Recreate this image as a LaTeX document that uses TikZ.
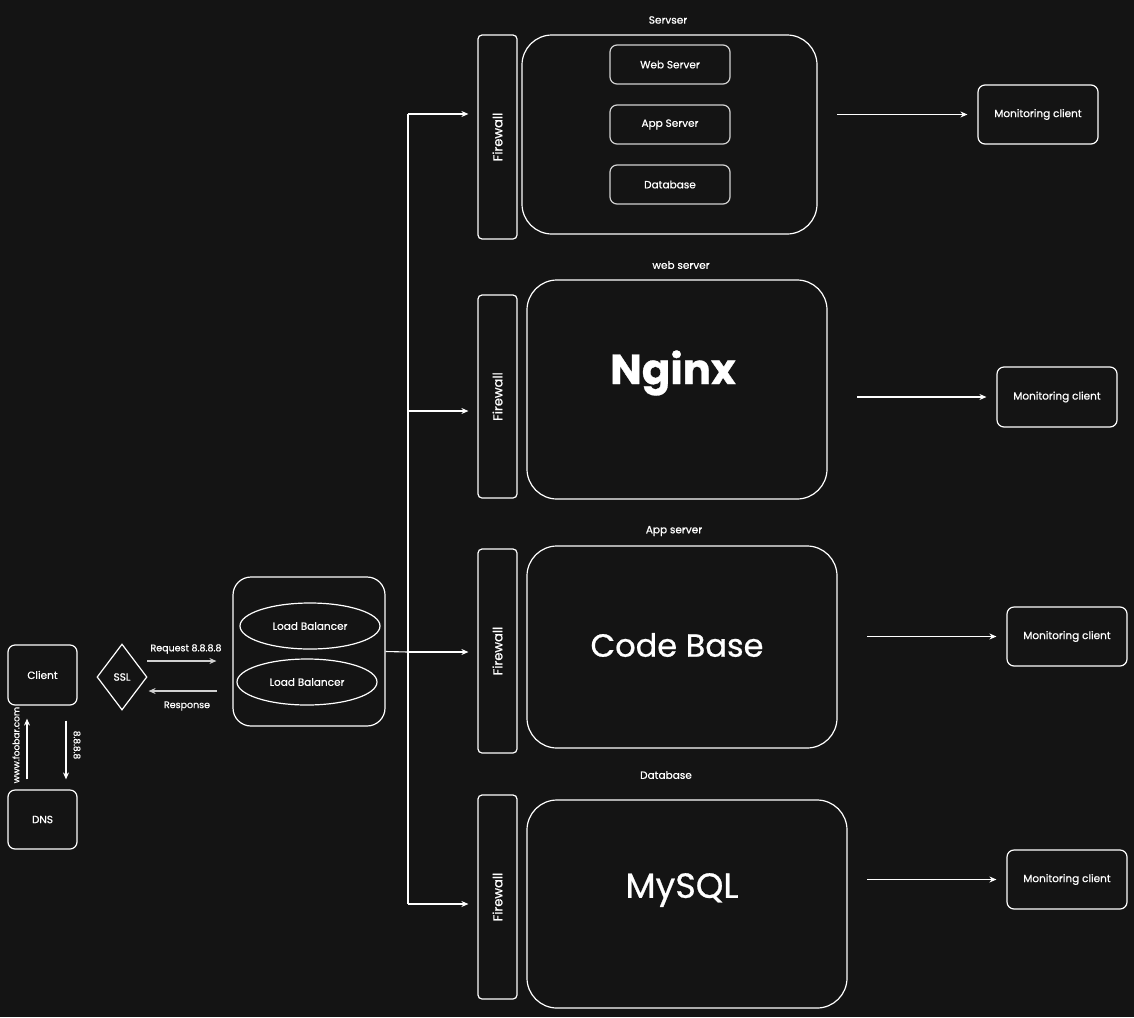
\documentclass[tikz,border=0pt]{standalone}
\usepackage{fontspec}
\setmainfont{Poppins}[FakeBold=0.7]
\usetikzlibrary{shapes.geometric,arrows.meta}
\newlength{\du}
\setlength{\du}{1pt}
\definecolor{bgcolor}{rgb}{0.078, 0.078, 0.078}
\definecolor{dialinecolor}{rgb}{1.000000, 1.000000, 1.000000}
\definecolor{softline}{rgb}{0.820000, 0.820000, 0.820000}
\tikzset{
  box/.style={draw=dialinecolor, line width=1.2\du, rounded corners=7\du, text=dialinecolor, font=\fontsize{10.5}{12}\selectfont},
  bigbox/.style={box, rounded corners=30\du},
  fwall/.style={box, rounded corners=4\du, minimum width=39\du},
  lbel/.style={draw=dialinecolor, line width=1.2\du, ellipse, minimum width=140\du, minimum height=46\du, text=dialinecolor, font=\fontsize{10.5}{12}\selectfont},
  lbl/.style={text=dialinecolor, font=\fontsize{10.5}{12}\selectfont, inner sep=0pt},
  tiny/.style={text=dialinecolor, font=\fontsize{9}{10}\selectfont, inner sep=0pt},
  huge/.style={text=dialinecolor, font=\bfseries\fontsize{36}{40}\selectfont, inner sep=0pt},
  arr/.style={draw=dialinecolor, line width=1.1\du, -{Stealth[length=7pt,width=6pt]}},
  wire/.style={draw=dialinecolor, line width=1.1\du}
}

\begin{document}
\begin{tikzpicture}
\pgftransformxscale{1.000000}
\pgftransformyscale{-1.000000}
\fill[bgcolor] (0\du,0\du) rectangle (1134\du,1017\du);
\useasboundingbox (0\du,0\du) rectangle (1134\du,1017\du);
% client side
\node[box, minimum width=69\du, minimum height=60\du] (client) at (42.5\du,675\du) {Client};
\node[box, minimum width=69\du, minimum height=59\du] (dns) at (42.5\du,819.5\du) {DNS};
\draw[arr, shorten <=10\du, shorten >=13\du] ([xshift=-15.5\du]dns.north) -- ([xshift=-15.5\du]client.south);
\draw[arr, shorten <=15\du, shorten >=10\du] ([xshift=23.5\du]client.south) -- ([xshift=23.5\du]dns.north);
\node[tiny, rotate=90] (dnsq) at (16\du,745\du) {www.foobar.com};
\node[tiny, rotate=-90] (dnsa) at (77\du,745\du) {8.8.8.8};
\node[draw=dialinecolor, line width=1.2\du, diamond, minimum width=50\du, minimum height=66\du, inner sep=0pt, text=dialinecolor, font=\fontsize{10.5}{12}\selectfont] (ssl) at (122\du,677\du) {SSL};
% load balancers
\node[box, rounded corners=18\du, minimum width=152\du, minimum height=149\du] (lb) at (309\du,651.5\du) {};
\node[lbel] (lb1) at (310\du,626\du) {Load Balancer};
\node[lbel] (lb2) at (307\du,682\du) {Load Balancer};
\coordinate (rq) at (147\du,661\du);
\coordinate (rs) at (217\du,691\du);
\draw[arr, draw=softline, shorten >=16\du] (rq) -- (rq -| lb.west);
\draw[arr, draw=softline, shorten >=1\du] (rs) -- (rs -| ssl.east);
\node[lbl, font=\fontsize{9.5}{11}\selectfont] (rqt) at (186\du,649\du) {Request 8.8.8.8};
\node[lbl, font=\fontsize{9.5}{11}\selectfont] (rst) at (187\du,706\du) {Response};
% firewalls
\node[fwall, minimum height=204\du] (fw1) at (497.5\du,137\du) {};
\node[fwall, minimum height=203\du] (fw2) at (497.5\du,396.5\du) {};
\node[fwall, minimum height=204\du] (fw3) at (497.5\du,651\du) {};
\node[fwall, minimum height=204\du] (fw4) at (497.5\du,897\du) {};
\foreach \f in {fw1,fw2,fw3,fw4}
  \node[lbl, font=\fontsize{13}{15}\selectfont, rotate=90] at (\f) {Firewall};
\coordinate (j1) at (408\du,114\du);
\coordinate (j2) at (408\du,411\du);
\coordinate (j3) at (408\du,652\du);
\coordinate (j4) at (408\du,904\du);
\draw[wire] (lb.east) -- (j3);
\draw[wire] (j1) -- (j4);
\draw[arr, shorten >=9\du] (j1) -- (j1 -| fw1.west);
\draw[arr, shorten >=9\du] (j2) -- (j2 -| fw2.west);
\draw[arr, shorten >=9\du] (j3) -- (j3 -| fw3.west);
\draw[arr, shorten >=9\du] (j4) -- (j4 -| fw4.west);
% servers
\node[bigbox, minimum width=295\du, minimum height=199\du] (srv1) at (669.5\du,134.5\du) {};
\node[box, draw=softline, minimum width=120\du, minimum height=39\du] (web) at (670\du,64.5\du) {Web Server};
\node[box, draw=softline, minimum width=120\du, minimum height=39\du] (app) at (670\du,124.5\du) {App Server};
\node[box, draw=softline, minimum width=120\du, minimum height=39\du] (db) at (670\du,184.5\du) {Database};
\node[bigbox, minimum width=300\du, minimum height=219\du] (srv2) at (677\du,389.5\du) {};
\node[bigbox, minimum width=310\du, minimum height=202\du] (srv3) at (682\du,647\du) {};
\node[bigbox, minimum width=320\du, minimum height=208\du] (srv4) at (687\du,904\du) {};
\node[lbl] (t1) at (668\du,20\du) {Servser};
\node[lbl] (t2) at (681\du,265\du) {web server};
\node[lbl] (t3) at (674\du,531\du) {App server};
\node[lbl] (t4) at (666\du,775\du) {Database};
\node[huge, font=\bfseries\fontsize{42}{46}\selectfont] (nginx) at (673\du,373\du) {Nginx};
\node[huge, font=\fontsize{32}{36}\selectfont] (code) at (677\du,645\du) {Code Base};
\node[huge, font=\fontsize{35}{39}\selectfont] (mysql) at (682\du,890\du) {MySQL};
% monitoring
\node[box, minimum width=120\du, minimum height=59\du] (mon1) at (1038\du,114.5\du) {Monitoring client};
\node[box, minimum width=120\du, minimum height=60\du] (mon2) at (1057\du,397\du) {Monitoring client};
\node[box, minimum width=120\du, minimum height=59\du] (mon3) at (1067\du,636.5\du) {Monitoring client};
\node[box, minimum width=120\du, minimum height=59\du] (mon4) at (1067\du,879.5\du) {Monitoring client};
\coordinate (o1) at (837\du,114.5\du);
\coordinate (o2) at (857\du,397\du);
\coordinate (o3) at (867\du,636.5\du);
\coordinate (o4) at (867\du,879.5\du);
\draw[arr, shorten >=10\du] (o1) -- (mon1);
\draw[arr, shorten >=10\du] (o2) -- (mon2);
\draw[arr, shorten >=10\du] (o3) -- (mon3);
\draw[arr, shorten >=10\du] (o4) -- (mon4);
\end{tikzpicture}
\end{document}
